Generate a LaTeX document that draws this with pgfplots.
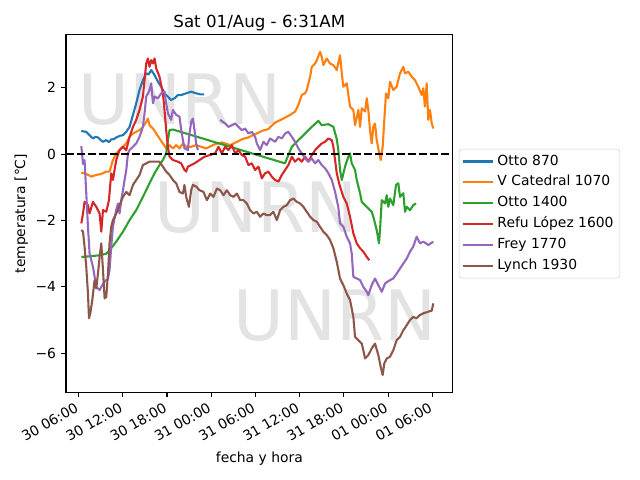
\documentclass[border=0pt]{standalone}
\usepackage{fontspec}
\setmainfont{DejaVu Sans}
\usepackage{pgfplots}
\usepackage{pgfplotstable}
\pgfplotsset{compat=1.18}
\definecolor{c0}{HTML}{1F77B4}
\definecolor{c1}{HTML}{FF7F0E}
\definecolor{c2}{HTML}{2CA02C}
\definecolor{c3}{HTML}{D62728}
\definecolor{c4}{HTML}{9467BD}
\definecolor{c5}{HTML}{8C564B}

\pgfplotstableread{
h T
0.37 0.70
0.70 0.68
1.04 0.67
1.49 0.57
1.95 0.47
2.30 0.52
2.63 0.50
3.00 0.42
3.31 0.37
3.76 0.42
4.10 0.36
4.43 0.44
4.80 0.45
5.11 0.50
5.60 0.55
6.02 0.57
6.47 0.67
6.92 0.82
7.38 1.18
7.82 1.53
8.27 1.93
8.73 2.23
9.18 2.43
9.50 2.40
9.86 2.53
10.31 2.38
10.77 2.18
11.21 2.03
11.66 1.83
12.12 1.73
12.56 1.63
13.02 1.68
13.48 1.78
13.93 1.78
14.60 1.83
15.28 1.88
15.96 1.83
16.50 1.80
17.04 1.80
}\otto

\pgfplotstableread{
h T
0.37 -0.56
1.04 -0.60
1.72 -0.68
2.40 -0.63
3.08 -0.60
3.76 -0.53
4.20 -0.53
4.66 -0.18
5.11 0.02
5.56 0.12
6.02 0.22
6.47 0.32
6.92 0.52
7.38 0.62
7.82 0.67
8.27 0.72
8.73 0.82
9.18 0.97
9.41 1.07
9.63 0.87
10.09 0.77
10.54 0.62
10.98 0.47
11.44 0.32
11.89 0.17
12.34 0.27
12.80 0.17
13.25 0.27
13.69 0.17
14.16 0.32
14.60 0.22
15.28 0.22
15.96 0.27
16.64 0.22
17.32 0.17
18.53 0.30
19.49 0.35
20.57 0.27
21.52 0.37
22.20 0.45
23.01 0.50
23.96 0.60
24.91 0.70
25.72 0.75
26.67 0.95
27.62 1.05
28.70 1.18
29.38 1.28
29.83 1.48
30.29 1.78
30.74 1.83
30.97 1.93
31.42 2.33
31.65 2.63
32.10 2.73
32.33 2.83
32.77 3.08
33.00 2.93
33.22 2.68
33.68 2.88
34.12 2.73
34.58 2.68
35.04 2.53
35.48 2.98
35.72 2.43
35.93 2.03
36.39 2.13
36.84 1.43
37.29 1.33
37.52 0.87
37.97 1.33
38.20 0.82
38.43 1.38
38.88 1.28
39.11 1.68
39.32 1.33
39.55 0.72
39.78 0.32
40.00 0.82
40.23 0.92
40.46 0.42
40.81 0.02
41.00 -0.18
41.27 0.22
41.49 1.03
41.72 1.83
42.03 1.68
42.26 2.18
42.71 1.93
43.17 2.03
43.62 2.43
44.07 2.63
44.30 2.43
44.75 2.48
45.21 2.33
45.65 2.23
46.10 2.03
46.56 1.78
46.78 1.98
47.00 1.43
47.24 2.13
47.46 1.03
47.69 1.33
47.93 0.92
48.15 0.77
}\catedral

\pgfplotstableread{
h T
0.37 -3.10
1.59 -3.08
2.94 -3.05
3.76 -3.00
4.20 -2.90
5.11 -2.64
6.02 -2.34
6.92 -1.99
7.82 -1.69
8.73 -1.29
9.63 -0.88
10.31 -0.58
10.98 -0.33
11.44 -0.18
11.89 0.02
12.12 0.42
12.34 0.72
12.80 0.74
28.01 -0.28
28.94 0.22
29.83 0.42
30.74 0.62
31.65 0.82
32.54 1.00
33.00 0.87
33.90 0.90
34.58 0.82
35.04 0.45
35.25 0.12
35.48 -0.48
35.72 -0.78
36.16 -0.38
36.61 -0.08
36.84 0.02
37.07 -0.28
37.52 -0.48
37.75 -0.78
38.20 -1.18
38.43 -1.44
38.88 -1.54
39.32 -1.64
39.78 -1.74
40.00 -1.89
40.46 -2.29
40.77 -2.69
40.91 -2.29
41.14 -1.39
41.59 -1.49
41.82 -1.24
42.03 -1.59
42.26 -1.34
42.71 -1.54
43.08 -0.93
43.39 -0.88
43.62 -1.29
44.07 -1.18
44.30 -1.74
44.53 -1.59
44.98 -1.69
45.42 -1.54
45.80 -1.49
}\ottoalto

\pgfplotstableread{
h T
0.37 -2.09
0.60 -1.79
0.81 -1.44
1.27 -1.54
1.49 -1.79
1.95 -1.44
2.40 -1.59
2.85 -1.79
3.08 -2.34
3.31 -1.69
3.76 -1.74
4.12 -1.39
4.43 -0.58
4.66 -0.78
4.88 -0.48
5.11 -0.18
5.56 0.12
6.02 0.22
6.47 0.12
6.92 0.52
7.38 0.82
7.82 1.03
8.27 1.33
8.73 1.73
8.95 2.23
9.18 2.73
9.41 2.88
9.63 2.63
9.86 2.83
10.09 2.73
10.31 2.88
10.54 2.58
10.98 2.33
11.44 1.83
11.66 1.33
11.89 0.72
12.12 0.22
12.34 -0.08
12.80 -0.18
13.48 -0.23
13.93 -0.28
14.37 -0.48
14.60 -0.53
14.83 -0.38
15.28 -0.33
15.73 -0.28
16.41 -0.18
17.08 -0.08
18.53 0.02
18.98 0.22
19.44 0.02
19.89 0.22
20.34 0.12
20.80 0.27
21.25 0.02
21.69 0.12
22.16 -0.03
22.60 -0.08
23.05 -0.33
23.51 -0.28
23.96 -0.48
24.41 -0.38
24.87 -0.73
25.31 -0.58
25.76 -0.53
26.22 -0.68
26.67 -0.78
27.12 -0.83
27.58 -0.63
28.03 -0.48
28.47 -0.33
28.94 -0.08
29.38 -0.23
29.83 -0.13
30.29 -0.23
30.74 -0.08
31.19 -0.23
31.65 -0.03
32.10 0.12
32.54 0.22
33.00 0.32
33.45 0.37
33.90 0.47
34.36 0.42
34.58 0.22
34.81 -0.18
35.04 -0.58
35.25 -0.78
35.48 -0.98
35.93 -1.29
36.39 -1.49
36.84 -1.89
37.29 -2.39
37.75 -2.69
38.20 -2.84
38.64 -2.94
39.11 -3.10
39.46 -3.20
}\refu

\pgfplotstableread{
h T
0.37 0.24
0.60 -0.30
0.81 -0.18
1.04 -1.18
1.27 -2.19
1.49 -3.00
1.95 -3.40
2.40 -4.00
2.85 -4.10
3.08 -4.00
3.53 -3.85
3.99 -3.75
4.20 -3.50
4.43 -2.79
4.66 -2.19
4.88 -1.94
5.11 -1.69
5.34 -1.49
5.56 -1.79
5.79 -1.39
6.02 -1.09
6.24 -0.78
6.47 -0.48
6.70 0.02
6.92 0.12
7.38 0.22
7.82 0.32
8.27 0.52
8.73 0.82
8.95 1.23
9.18 1.73
9.41 1.83
9.63 1.93
9.86 2.13
10.09 1.53
10.31 1.73
10.77 1.68
11.21 1.83
11.66 1.88
11.89 1.53
12.12 1.23
12.56 1.03
12.80 1.33
13.25 1.18
13.69 1.13
13.93 0.72
14.16 0.42
14.37 0.17
14.83 0.12
15.05 0.62
15.28 0.97
15.51 1.07
15.73 0.72
15.96 0.32
16.19 0.12
nan nan
19.21 1.03
19.89 0.92
20.34 0.82
20.80 0.87
21.25 0.92
21.69 0.82
22.16 0.72
22.60 0.77
23.05 0.62
23.51 0.67
23.96 0.52
24.19 0.32
24.64 0.12
25.08 0.37
25.54 0.27
25.99 0.47
26.67 0.37
27.12 0.52
27.58 0.47
28.03 0.62
28.47 0.67
28.94 0.52
29.38 0.37
29.83 0.17
30.29 0.02
30.74 -0.13
31.19 -0.23
31.65 -0.13
32.10 -0.28
32.54 -0.18
33.00 -0.33
33.45 -0.43
33.90 -0.58
34.36 -0.78
34.81 -1.14
35.25 -1.60
35.48 -2.09
35.93 -2.19
36.39 -2.49
36.84 -2.69
37.07 -3.00
37.29 -3.70
37.75 -3.75
38.20 -3.80
38.64 -4.00
39.11 -4.15
39.32 -4.25
39.78 -3.95
40.23 -3.75
40.68 -3.95
41.14 -4.15
41.59 -3.90
42.26 -3.80
42.71 -3.75
43.17 -3.60
43.62 -3.45
44.07 -3.30
44.53 -3.15
44.98 -2.94
45.42 -2.79
45.88 -2.49
46.33 -2.69
46.78 -2.64
47.46 -2.74
48.14 -2.64
}\frey

\pgfplotstableread{
h T
0.37 -2.29
0.60 -2.34
0.81 -2.79
1.04 -3.40
1.27 -4.20
1.41 -4.95
1.59 -4.80
1.86 -4.40
2.17 -3.80
2.40 -4.05
2.63 -3.60
2.85 -3.10
3.08 -2.69
3.31 -3.50
3.53 -4.35
3.76 -4.30
3.99 -3.60
4.20 -2.69
4.43 -2.19
4.66 -1.99
5.11 -1.79
5.56 -1.54
6.02 -1.29
6.47 -1.14
6.92 -1.24
7.38 -0.93
7.82 -0.78
8.27 -0.63
8.73 -0.33
9.18 -0.28
9.63 -0.23
10.31 -0.23
10.98 -0.23
11.44 -0.38
11.89 -0.53
12.34 -0.63
12.80 -0.78
13.25 -0.88
13.69 -1.14
14.16 -1.19
14.37 -0.93
14.60 -1.29
14.97 -1.59
15.28 -1.09
15.51 -0.93
15.96 -0.98
16.41 -1.09
16.95 -1.14
17.41 -1.39
17.86 -1.19
18.31 -1.29
18.77 -1.04
19.21 -1.09
19.66 -1.24
20.12 -1.09
20.57 -1.24
21.02 -1.29
21.48 -1.19
21.93 -1.39
22.37 -1.39
22.83 -1.49
23.28 -1.69
23.73 -1.79
24.19 -1.74
24.64 -1.89
25.08 -1.79
25.54 -1.84
25.99 -1.84
26.44 -1.74
26.90 -1.99
27.35 -1.69
27.80 -1.59
28.26 -1.54
28.70 -1.39
29.15 -1.34
29.61 -1.44
30.06 -1.49
30.51 -1.59
30.97 -1.74
31.42 -1.89
31.87 -1.99
32.33 -2.04
32.77 -2.19
33.22 -2.34
33.68 -2.44
34.12 -2.59
34.58 -2.84
35.04 -3.25
35.48 -3.75
35.93 -3.95
36.39 -4.20
36.84 -4.40
37.29 -4.91
37.52 -5.51
37.97 -5.61
38.43 -5.71
38.64 -5.91
38.88 -6.16
39.32 -6.06
39.78 -5.86
40.23 -5.71
40.68 -6.06
41.00 -6.41
41.27 -6.66
41.49 -6.31
41.82 -6.16
42.26 -6.11
42.71 -5.91
43.17 -5.61
43.62 -5.51
44.07 -5.31
44.53 -5.16
44.98 -5.00
45.42 -4.91
45.88 -4.95
46.33 -4.85
46.78 -4.80
47.46 -4.75
47.93 -4.72
48.14 -4.50
}\lynch

\begin{document}
\begin{tikzpicture}
\path[use as bounding box] (-47.52pt,-63.14pt) rectangle (413.28pt,282.46pt);
\begin{axis}[
  at={(0,0)}, anchor=south west,
  scale only axis, width=278.4pt, height=257.3pt,
  xmin=-1.71, xmax=50.77, ymin=-7.18, ymax=3.59,
  xtick={0,6,...,48},
  xticklabels={30 06:00,30 12:00,30 18:00,31 00:00,31 06:00,31 12:00,31 18:00,01 00:00,01 06:00},
  ytick={-6,-4,-2,0,2},
  yticklabels={−6,−4,−2,0,2},
  tick align=outside, tick pos=left,
  major tick length=3.5pt,
  every tick/.style={black, line width=0.8pt},
  axis line style={line width=0.8pt},
  tick label style={font=\fontsize{10}{12}\selectfont},
  xticklabel style={xshift=-5pt, rotate=30, anchor=north east, inner sep=0pt, text height=7.6pt, text depth=2.4pt, yshift=-3.5pt},
  yticklabel style={inner sep=0pt, xshift=-3.5pt},
  title={Sat 01/Aug - 6:31AM},
  title style={font=\fontsize{12}{14}\selectfont, at={(axis description cs:0.5,1)}, anchor=base, yshift=-0.5pt},
  xlabel={fecha y hora},
  xlabel style={font=\fontsize{10}{12}\selectfont, at={(axis description cs:0.5,0)}, anchor=base, yshift=-50.7pt},
  ylabel={temperatura [°C]},
  ylabel style={font=\fontsize{10}{12}\selectfont, at={(axis description cs:-0.106,0.5)}, anchor=base},
  unbounded coords=jump,
  legend style={at={(axis description cs:1.016,0.5)}, anchor=west,
    font=\fontsize{10}{12}\selectfont, draw=black!18, rounded corners=2pt,
    inner xsep=2pt, inner ysep=1.5pt,
    nodes={inner ysep=2.5pt, inner xsep=2.5pt, text height=7.6pt, text depth=2.4pt}},
  legend cell align=left,
  legend image code/.code={\draw[#1] (0pt,0pt) -- (21.6pt,0pt);},
  every axis plot/.append style={line width=1.5pt, line join=round},
]
\node[text=black!11, font=\fontsize{50}{60}\selectfont] at (axis description cs:0.295,0.818) {UNRN};
\node[text=black!11, font=\fontsize{50}{60}\selectfont] at (axis description cs:0.491,0.516) {UNRN};
\node[text=black!11, font=\fontsize{50}{60}\selectfont] at (axis description cs:0.696,0.214) {UNRN};
\addplot[c0] table[x=h,y=T] {\otto};
\addlegendentry{Otto 870}
\addplot[c1] table[x=h,y=T] {\catedral};
\addlegendentry{V Catedral 1070}
\addplot[c2] table[x=h,y=T] {\ottoalto};
\addlegendentry{Otto 1400}
\addplot[c3] table[x=h,y=T] {\refu};
\addlegendentry{Refu López 1600}
\addplot[c4] table[x=h,y=T] {\frey};
\addlegendentry{Frey 1770}
\addplot[c5] table[x=h,y=T] {\lynch};
\addlegendentry{Lynch 1930}
\addplot[black, dash pattern=on 5.55pt off 2.4pt, forget plot] coordinates {(-1.71,0) (50.77,0)};
\end{axis}
\end{tikzpicture}
\end{document}
